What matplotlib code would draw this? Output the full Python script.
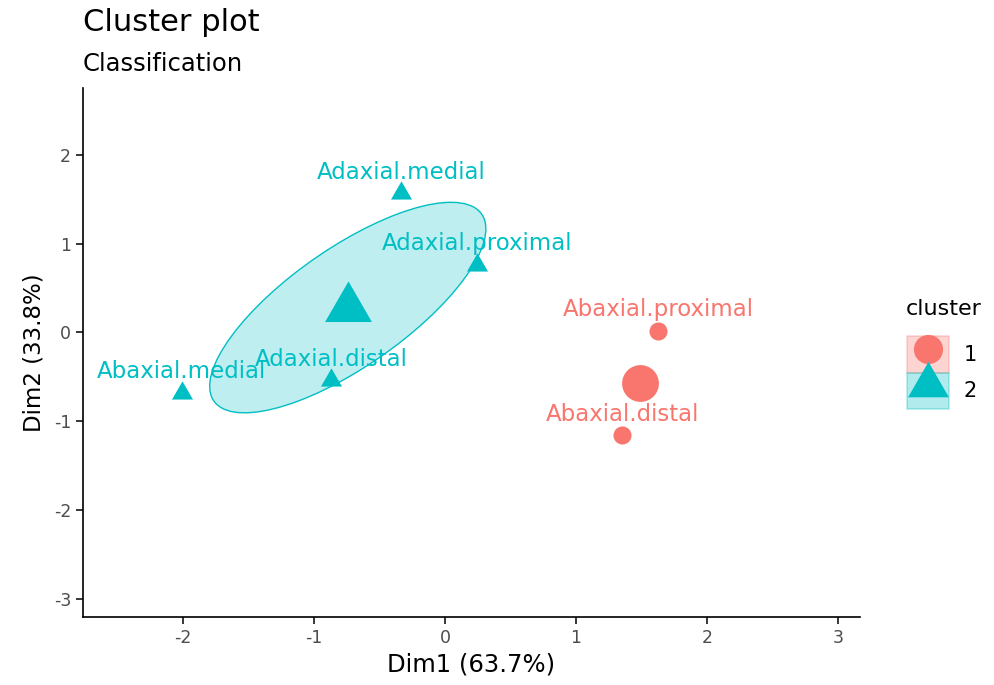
import numpy as np
import matplotlib
matplotlib.use("Agg")
import matplotlib.pyplot as plt
from matplotlib.patches import Ellipse, Patch
from matplotlib.lines import Line2D
from matplotlib.legend_handler import HandlerTuple

plt.rcParams['font.family'] = ['DejaVu Sans']
plt.rcParams['axes.unicode_minus'] = False

# PCA coordinates of the samples
names = ['Adaxial.medial', 'Adaxial.proximal', 'Adaxial.distal', 'Abaxial.medial',
         'Abaxial.proximal', 'Abaxial.distal']
dim1 = [-0.336, 0.244, -0.868, -2.008, 1.628, 1.353]
dim2 = [1.57, 0.763, -0.534, -0.677, 0.019, -1.156]
cluster = [2, 2, 2, 2, 1, 1]

colors = {1: '#F8766D', 2: '#00BFC4'}
ell_scale = 1.1

# equilateral triangle marker, centred on its centroid
tri = [(-1, -0.577), (1, -0.577), (0, 1.155)]
markers = {1: 'o', 2: tri}
small_ms = {1: 13, 2: 17.5}
big_ms = {1: 26.5, 2: 39}

x = np.array(dim1)
y = np.array(dim2)
cl = np.array(cluster)

fig = plt.figure(figsize=(9.95, 6.85), dpi=100)
ax = fig.add_axes([83/995, 68/685, 777/995, 529/685])

for k in [1, 2]:
    m = cl == k
    xs, ys = x[m], y[m]
    if m.sum() > 2:
        cov = np.cov(xs, ys)
        vals, vecs = np.linalg.eigh(cov)
        order = vals.argsort()[::-1]
        vals, vecs = vals[order], vecs[:, order]
        ang = np.degrees(np.arctan2(vecs[1, 0], vecs[0, 0]))
        w, h = 2 * ell_scale * np.sqrt(vals)
        ax.add_patch(Ellipse((xs.mean(), ys.mean()), w, h, angle=ang,
                             facecolor=colors[k], alpha=0.25, edgecolor='none', zorder=1))
        ax.add_patch(Ellipse((xs.mean(), ys.mean()), w, h, angle=ang,
                             facecolor='none', edgecolor=colors[k], lw=1.0, zorder=2))
    ax.plot(xs, ys, linestyle='none', marker=markers[k], ms=small_ms[k],
            color=colors[k], mec='none', zorder=3)
    ax.plot([xs.mean()], [ys.mean()], linestyle='none', marker=markers[k], ms=big_ms[k],
            color=colors[k], mec='none', zorder=3)

for n, xi, yi, k in zip(names, x, y, cl):
    ax.annotate(n, (xi, yi), xytext=(0, 15), textcoords='offset points',
                ha='center', va='center', fontsize=16.5, color=colors[k], zorder=4)

ax.set_xlim(-2.763, 3.168)
ax.set_ylim(-3.2, 2.75)
ax.set_xticks([-2, -1, 0, 1, 2, 3])
ax.set_yticks([-3, -2, -1, 0, 1, 2])
for s in ['top', 'right']:
    ax.spines[s].set_visible(False)
for s in ['left', 'bottom']:
    ax.spines[s].set_linewidth(1.2)
ax.tick_params(labelsize=12.5, labelcolor='#4D4D4D', length=5, width=1.1)
ax.set_xlabel('Dim1 (63.7%)', fontsize=17.5, labelpad=4)
ax.set_ylabel('Dim2 (33.8%)', fontsize=16.5, labelpad=6)

fig.text(83/995, 1 - 31/685, 'Cluster plot', fontsize=22, va='baseline', ha='left')
fig.text(83/995, 1 - 71/685, 'Classification', fontsize=17.5, va='baseline', ha='left')

handles = []
for k in [1, 2]:
    box = Patch(facecolor=colors[k], alpha=0.3, edgecolor=colors[k], lw=1.2)
    mk = Line2D([], [], linestyle='none', marker=markers[k],
                ms=21 if k == 1 else 34, color=colors[k], mec='none')
    handles.append((box, mk))
fig.text(906/995, 1 - 309/685, 'cluster', fontsize=16, va='center', ha='left')
fig.legend(handles, ['1', '2'], loc='upper left',
           bbox_to_anchor=(899/995, 1 - 328/685), frameon=False, fontsize=15,
           handlelength=2.0, handleheight=2.3,
           handler_map={tuple: HandlerTuple(ndivide=1, pad=0)}, labelspacing=0.0,
           handletextpad=0.7, borderaxespad=0)

fig.savefig('out.png', dpi=100)
